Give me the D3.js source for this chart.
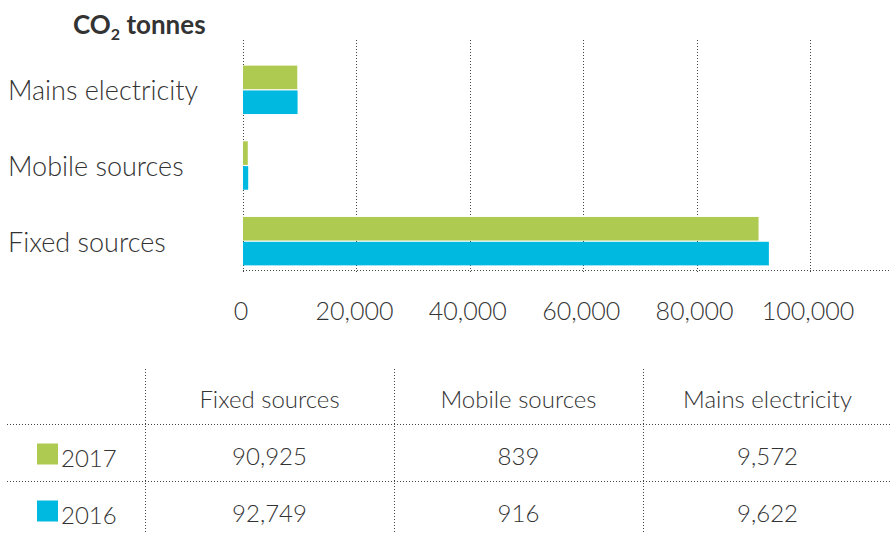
<!DOCTYPE html>
<html>
<head>
<meta charset="utf-8">
<script src="https://cdn.jsdelivr.net/npm/d3@7"></script>
<style>
  body { margin: 0; background: #fff; }
  text { font-family: "Lato", "Open Sans", sans-serif; fill: #333; }
  .light { font-weight: 300; }
</style>
</head>
<body>
<svg id="chart" width="890" height="534"></svg>
<script>
// DATA
const categories = ["Mains electricity", "Mobile sources", "Fixed sources"];
const tableColumns = ["Fixed sources", "Mobile sources", "Mains electricity"];
const years = ["2017", "2016"];
const values2017 = { "Fixed sources": 90925, "Mobile sources": 839, "Mains electricity": 9572 };
const values2016 = { "Fixed sources": 92749, "Mobile sources": 916, "Mains electricity": 9622 };
const tickValues = [0, 20000, 40000, 60000, 80000, 100000];
const colors = { "2017": "#afca50", "2016": "#00b9e0" };

const byYear = { "2017": values2017, "2016": values2016 };
const fmt = d3.format(",");

const svg = d3.select("#chart");

// SCALES
const x = d3.scaleLinear().domain([0, 100000]).range([243, 810]);
const y = d3.scaleBand().domain(categories).range([52, 279])
    .paddingInner(0.36).paddingOuter(0.18);
const ySub = d3.scaleBand().domain(years).range([0, y.bandwidth()]).paddingInner(0.05);

const dotted = g => g.attr("stroke", "#444").attr("stroke-width", 1).attr("stroke-dasharray", "1,2");

// gridlines (dotted verticals)
svg.append("g").selectAll("line")
    .data(tickValues)
    .join("line")
    .attr("x1", d => Math.round(x(d)) + 0.5)
    .attr("x2", d => Math.round(x(d)) + 0.5)
    .attr("y1", 40)
    .attr("y2", 273)
    .call(dotted);

// axis baseline
svg.append("line")
    .attr("x1", 243).attr("x2", 890)
    .attr("y1", 270.5).attr("y2", 270.5)
    .call(dotted);

// BARS
const groups = svg.append("g").selectAll("g")
    .data(categories)
    .join("g")
    .attr("transform", d => `translate(0,${y(d)})`);

groups.selectAll("rect")
    .data(c => years.map(yr => ({ cat: c, year: yr, value: byYear[yr][c] })))
    .join("rect")
    .attr("x", x(0))
    .attr("y", d => ySub(d.year))
    .attr("width", d => x(d.value) - x(0))
    .attr("height", ySub.bandwidth())
    .attr("fill", d => colors[d.year]);

// category labels
svg.append("g").selectAll("text")
    .data(categories)
    .join("text")
    .attr("class", "light")
    .attr("x", 8)
    .attr("y", d => y(d) + y.bandwidth() / 2 + 1)
    .attr("dy", "0.35em")
    .attr("font-size", 27)
    .text(d => d);

// x tick labels
svg.append("g").selectAll("text")
    .data(tickValues)
    .join("text")
    .attr("class", "light")
    .attr("x", d => x(d) - 2)
    .attr("y", 311)
    .attr("dy", "0.35em")
    .attr("text-anchor", "middle")
    .attr("font-size", 25)
    .text(d => fmt(d));

// title
const title = svg.append("text")
    .attr("x", 73).attr("y", 34)
    .attr("font-size", 26).attr("font-weight", 700);
title.append("tspan").text("CO");
title.append("tspan").attr("font-size", 16).attr("dy", 6).text("2");
title.append("tspan").attr("dy", -6).text(" tonnes");

// TABLE
const colX = d3.scaleBand().domain(tableColumns).range([145, 892]);
const rowY = d3.scaleBand().domain(["head"].concat(years)).range([369, 540]);

// vertical dividers
svg.append("g").selectAll("line")
    .data(tableColumns)
    .join("line")
    .attr("x1", d => Math.round(colX(d)) + 0.5)
    .attr("x2", d => Math.round(colX(d)) + 0.5)
    .attr("y1", 369).attr("y2", 534)
    .call(dotted);

// horizontal dividers
svg.append("g").selectAll("line")
    .data(years)
    .join("line")
    .attr("x1", 7).attr("x2", 890)
    .attr("y1", d => Math.round(rowY(d)) - 1.5)
    .attr("y2", d => Math.round(rowY(d)) - 1.5)
    .call(dotted);

// header
svg.append("g").selectAll("text")
    .data(tableColumns)
    .join("text")
    .attr("class", "light")
    .attr("x", d => colX(d) + colX.bandwidth() / 2)
    .attr("y", rowY("head") + rowY.bandwidth() / 2 + 2)
    .attr("dy", "0.35em")
    .attr("text-anchor", "middle")
    .attr("font-size", 24)
    .text(d => d);

// rows
const rows = svg.append("g").selectAll("g")
    .data(years)
    .join("g")
    .attr("transform", d => `translate(0,${rowY(d) + rowY.bandwidth() / 2})`);

rows.append("rect")
    .attr("x", 37).attr("y", -11)
    .attr("width", 21).attr("height", 21)
    .attr("fill", d => colors[d]);

rows.append("text")
    .attr("class", "light")
    .attr("x", 61).attr("y", 4)
    .attr("dy", "0.35em")
    .attr("font-size", 24)
    .text(d => d);

rows.selectAll("text.val")
    .data(yr => tableColumns.map(c => ({ c, v: byYear[yr][c] })))
    .join("text")
    .attr("class", "val light")
    .attr("x", d => colX(d.c) + colX.bandwidth() / 2)
    .attr("y", 2)
    .attr("dy", "0.35em")
    .attr("text-anchor", "middle")
    .attr("font-size", 24)
    .text(d => fmt(d.v));
</script>
</body>
</html>
